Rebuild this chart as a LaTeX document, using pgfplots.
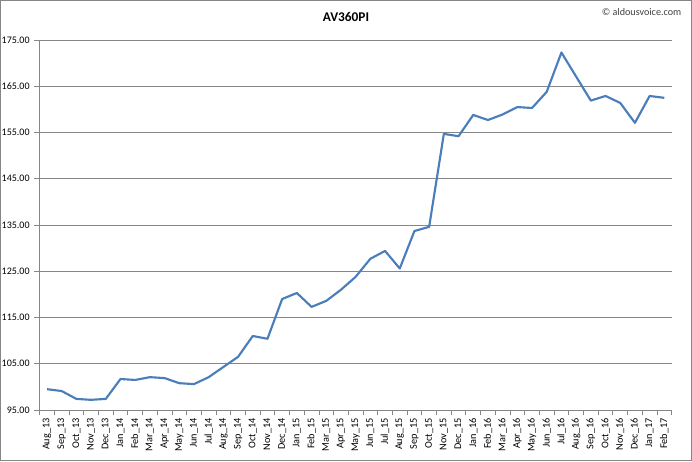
\documentclass[border=0pt]{standalone}
\usepackage{pgfplots}
\pgfplotsset{compat=1.18}
\usepackage{fontspec}
\setmainfont{Carlito}
\definecolor{lineblue}{HTML}{4A7EBB}
\definecolor{gridgray}{HTML}{868686}

\begin{document}
\begin{tikzpicture}[x=0.75pt,y=0.75pt]
% frame of the chart area (pixels of the reference, 1px = 0.75pt)
\useasboundingbox (-47,-51) rectangle (645,410);
\draw[gridgray, line width=0.75pt] (-46.5,-50.5) rectangle (644.5,409.5);
\begin{axis}[
    at={(0,0)}, anchor=origin,
    scale only axis, width=474pt, height=277.5pt,
    xmin=-0.5, xmax=42.5,
    ymin=95, ymax=175,
    axis x line*=bottom, axis y line*=left,
    axis line style={gridgray, line width=0.75pt},
    xtick={0,...,42},
    xticklabels={Aug\_13,Sep\_13,Oct\_13,Nov\_13,Dec\_13,
      Jan\_14,Feb\_14,Mar\_14,Apr\_14,May\_14,Jun\_14,Jul\_14,Aug\_14,Sep\_14,Oct\_14,Nov\_14,Dec\_14,
      Jan\_15,Feb\_15,Mar\_15,Apr\_15,May\_15,Jun\_15,Jul\_15,Aug\_15,Sep\_15,Oct\_15,Nov\_15,Dec\_15,
      Jan\_16,Feb\_16,Mar\_16,Apr\_16,May\_16,Jun\_16,Jul\_16,Aug\_16,Sep\_16,Oct\_16,Nov\_16,Dec\_16,
      Jan\_17,Feb\_17},
    major x tick style={draw=none},
    minor xtick={-0.5,0.5,...,42.5},
    minor x tick style={gridgray, line width=0.6pt},
    minor tick length=4pt,
    ytick={95,105,...,175},
    major y tick style={gridgray, line width=0.6pt},
    major tick length=4pt,
    tick align=outside,
    ymajorgrids,
    grid style={gridgray, line width=0.75pt},
    x tick label style={rotate=90, anchor=east, font=\fontsize{7.7}{8}\selectfont, inner sep=2pt},
    y tick label style={font=\fontsize{7.5}{8}\selectfont},
    yticklabel style={/pgf/number format/.cd, fixed, fixed zerofill, precision=2, assume math mode=true},
    clip=false,
]
\addplot[lineblue, line width=1.6pt, line join=round] coordinates {
(0,99.5) (1,99.1) (2,97.4) (3,97.2) (4,97.4)
(5,101.7) (6,101.5) (7,102.1) (8,101.9) (9,100.8) (10,100.6) (11,102.1)
(12,104.3) (13,106.5) (14,111.0) (15,110.4) (16,119.0)
(17,120.3) (18,117.3) (19,118.6) (20,121.0) (21,123.8) (22,127.7) (23,129.4)
(24,125.6) (25,133.7) (26,134.6) (27,154.7) (28,154.2)
(29,158.8) (30,157.7) (31,158.9) (32,160.5) (33,160.3) (34,163.8) (35,172.3)
(36,167.1) (37,161.9) (38,162.9) (39,161.4) (40,157.1)
(41,162.9) (42,162.5)
};
\end{axis}
\node[font=\bfseries\fontsize{10}{12}\selectfont] at (299,393) {AV360PI};
\node[font=\fontsize{7.6}{9}\selectfont, anchor=east, text=black!75] at (639,398) {© aldousvoice.com};
\end{tikzpicture}
\end{document}
